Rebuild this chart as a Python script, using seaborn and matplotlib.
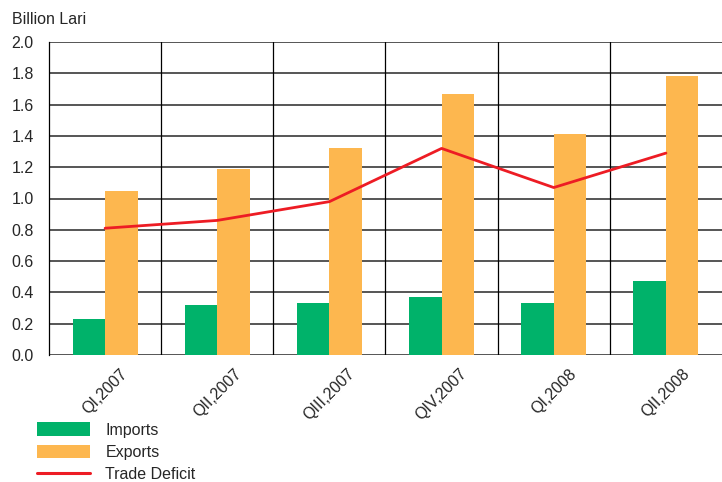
import matplotlib
matplotlib.use("Agg")
import matplotlib.pyplot as plt
import seaborn as sns
import pandas as pd
from matplotlib.patches import Patch
from matplotlib.lines import Line2D

# Quarterly trade figures, billion lari
quarters = ["QI,2007", "QII,2007", "QIII,2007", "QIV,2007", "QI,2008", "QII,2008"]
imports = [0.23, 0.32, 0.33, 0.37, 0.33, 0.47]
exports = [1.05, 1.19, 1.32, 1.67, 1.41, 1.78]
trade_deficit = [0.81, 0.86, 0.98, 1.32, 1.07, 1.29]
y_ticks = [0.0, 0.2, 0.4, 0.6, 0.8, 1.0, 1.2, 1.4, 1.6, 1.8, 2.0]

GREEN = "#00B26A"
ORANGE = "#FDB74F"
RED = "#ED1C24"
FS = 11.5

sns.set_style("white")
plt.rcParams["font.family"] = ["Liberation Sans", "DejaVu Sans"]

bars = pd.DataFrame({
    "quarter": quarters * 2,
    "value": imports + exports,
    "series": ["Imports"] * len(quarters) + ["Exports"] * len(quarters),
})
line = pd.DataFrame({"quarter": quarters, "deficit": trade_deficit})

fig = plt.figure(figsize=(7.22, 4.82), dpi=100)
ax = fig.add_axes([49 / 722, 1 - 355 / 482, 1 - 49 / 722, 313 / 482])

# horizontal grid at every 0.2
for t in y_ticks:
    ax.axhline(t, color="#555555", lw=1.4, zorder=0.5)
# vertical separators between quarters
for b in range(len(quarters) - 1):
    ax.axvline(b + 0.5, color="black", lw=0.9, zorder=0.5)

sns.barplot(data=bars, x="quarter", y="value", hue="series",
            palette={"Imports": GREEN, "Exports": ORANGE},
            width=0.58, gap=0, saturation=1, errorbar=None, legend=False,
            linewidth=0, edgecolor="none", ax=ax, zorder=2)
sns.lineplot(data=line, x="quarter", y="deficit", color=RED, lw=2.0,
             sort=False, ax=ax, zorder=3, legend=False)

ax.set_xlim(-0.5, len(quarters) - 0.5)
ax.set_ylim(0, 2.0)
ax.set_yticks(y_ticks)
ax.set_yticklabels([f"{t:.1f}" for t in y_ticks])
ax.set_xlabel("")
ax.set_ylabel("")
ax.tick_params(axis="y", length=0, pad=11, labelsize=FS)
ax.tick_params(axis="x", length=0, pad=8, labelsize=FS)
for lbl in ax.get_xticklabels():
    lbl.set_rotation(45)

for side in ["top", "right", "bottom"]:
    ax.spines[side].set_visible(False)
ax.spines["left"].set_color("black")
ax.spines["left"].set_linewidth(0.9)

fig.text(12 / 722, 1 - 20 / 482, "Billion Lari", fontsize=FS, va="center", ha="left")

handles = [
    Patch(facecolor=GREEN, edgecolor="none", label="Imports"),
    Patch(facecolor=ORANGE, edgecolor="none", label="Exports"),
    Line2D([], [], color=RED, lw=2.2, label="Trade Deficit"),
]
fig.legend(handles=handles, loc="lower left", bbox_to_anchor=(31 / 722, -0.014),
           frameon=False, fontsize=FS, handlelength=3.3, handleheight=0.95,
           handletextpad=0.95, labelspacing=0.44, borderaxespad=0.0)

fig.savefig("out.png", dpi=100)
